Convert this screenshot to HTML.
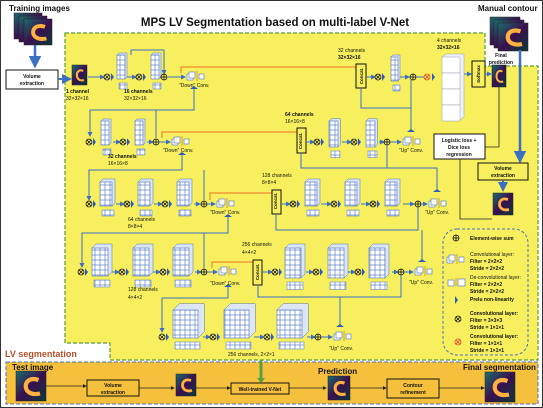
<!DOCTYPE html>
<html><head><meta charset="utf-8"><style>
html,body{margin:0;padding:0;background:#fff}
svg{display:block}
text{font-family:"Liberation Sans",sans-serif}
</style></head><body>
<svg id="s" width="543" height="408" viewBox="0 0 543 408" xmlns="http://www.w3.org/2000/svg">
<defs>
<pattern id="g" width="5" height="5" patternUnits="userSpaceOnUse"><rect width="5" height="5" fill="#fff" stroke="#4a72c4" stroke-width="0.6"/></pattern>
<linearGradient id="img" x1="0" y1="0" x2="1" y2="1"><stop offset="0" stop-color="#1a6d6a"/><stop offset="0.5" stop-color="#3a1050"/><stop offset="1" stop-color="#0a3a3a"/></linearGradient>
<marker id="ab" markerWidth="5" markerHeight="5" refX="4" refY="2.5" orient="auto"><path d="M0,0L5,2.5L0,5z" fill="#3a6fc4"/></marker>
<marker id="ak" markerWidth="5" markerHeight="5" refX="4" refY="2.5" orient="auto"><path d="M0,0L5,2.5L0,5z" fill="#222"/></marker>
</defs>
<rect x="0.5" y="0.5" width="542" height="407" fill="#fff" stroke="#333"/>
<!-- yellow region -->
<path d="M65,33 H485 V66 H538 V360 H110 V343 H65 Z" fill="#f7ef5e" stroke="#5a9a3a" stroke-width="1.2" stroke-dasharray="4,2"/>
<!-- bottom band -->
<rect x="6" y="362" width="532" height="42" fill="#f5c03c" stroke="#4a72c4" stroke-width="1" stroke-dasharray="4,2"/>
<text x="275" y="26" font-size="11.5" font-weight="bold" text-anchor="middle" fill="#111">MPS LV Segmentation based on multi-label V-Net</text>
<text x="9" y="11" font-size="8" font-weight="bold" fill="#111">Training images</text>
<text x="478" y="11" font-size="8" font-weight="bold" fill="#111">Manual contour</text>
<text x="5" y="357" font-size="9" font-weight="bold" fill="#b8502a">LV segmentation</text>
<g id="dyn"></g>
<g font-size="5" fill="#111" font-weight="bold">
<text x="32" y="78" text-anchor="middle">Volume</text><text x="32" y="85" text-anchor="middle">extraction</text>
<text x="66" y="93">1 channel</text><text x="66" y="100" font-weight="normal">32×32×16</text>
<text x="124" y="93">16 channels</text><text x="124" y="100" font-weight="normal">32×32×16</text>
<text x="179" y="87" font-weight="normal">"Down" Conv.</text>
<text x="338" y="52" font-weight="normal">32 channels</text><text x="338" y="59">32×32×16</text>
<text x="437" y="42" font-weight="normal">4 channels</text><text x="437" y="49">32×32×16</text>
<text x="501" y="57" text-anchor="middle">Final</text><text x="501" y="64" text-anchor="middle">prediction</text>
<text x="459" y="142" text-anchor="middle">Logistic loss +</text><text x="459" y="149" text-anchor="middle">Dice loss</text><text x="459" y="156" text-anchor="middle">regression</text>
<text x="503" y="170" text-anchor="middle">Volume</text><text x="503" y="177" text-anchor="middle">extraction</text>
<text x="108" y="158">32 channels</text><text x="108" y="165" font-weight="normal">16×16×8</text>
<text x="163" y="152" font-weight="normal">"Down" Conv.</text>
<text x="285" y="116">64 channels</text><text x="285" y="123" font-weight="normal">16×16×8</text>
<text x="399" y="152" font-weight="normal">"Up" Conv.</text>
<text x="128" y="221" font-weight="normal">64 channels</text><text x="128" y="228" font-weight="normal">8×8×4</text>
<text x="210" y="214" font-weight="normal">"Down" Conv.</text>
<text x="262" y="177" font-weight="normal">128 channels</text><text x="262" y="184" font-weight="normal">8×8×4</text>
<text x="425" y="214" font-weight="normal">"Up" Conv.</text>
<text x="128" y="291" font-weight="normal">128 channels</text><text x="128" y="299" font-weight="normal">4×4×2</text>
<text x="210" y="285" font-weight="normal">"Down" Conv.</text>
<text x="242" y="246" font-weight="normal">256 channels</text><text x="242" y="254" font-weight="normal">4×4×2</text>
<text x="409" y="284" font-weight="normal">"Up" Conv.</text>
<text x="228" y="356" font-weight="normal">256 channels, 2×2×1</text>
<text x="329" y="350" font-weight="normal">"Up" Conv.</text>
<text x="470" y="240">Element-wise sum</text>
<text x="470" y="256" font-weight="normal">Convolutional layer:</text><text x="470" y="263">Filter = 2×2×2</text><text x="470" y="270">Stride = 2×2×2</text>
<text x="470" y="279" font-weight="normal">De-convolutional layer:</text><text x="470" y="286">Filter = 2×2×2</text><text x="470" y="293">Stride = 2×2×2</text>
<text x="470" y="301">Prelu non-linearity</text>
<text x="470" y="315">Convolutional layer:</text><text x="470" y="322">Filter = 3×3×3</text><text x="470" y="329">Stride = 1×1×1</text>
<text x="470" y="338">Convolutional layer:</text><text x="470" y="345">Filter = 1×1×1</text><text x="470" y="352">Stride = 1×1×1</text>
<text x="12" y="370" font-size="8">Test image</text>
<text x="318" y="374" font-size="8">Prediction</text>
<text x="463" y="370" font-size="8">Final segmentation</text>
<text x="113" y="387" text-anchor="middle">Volume</text><text x="113" y="394" text-anchor="middle">extraction</text>
<text x="260" y="391" text-anchor="middle">Well-trained V-Net</text>
<text x="413" y="387" text-anchor="middle">Contour</text><text x="413" y="394" text-anchor="middle">refinement</text>
</g>
<g font-size="4.5" font-weight="bold" fill="#111">
<text transform="translate(363,76) rotate(-90)" text-anchor="middle">Concat.</text>
<text transform="translate(302,141) rotate(-90)" text-anchor="middle">Concat.</text>
<text transform="translate(277,201) rotate(-90)" text-anchor="middle">Concat.</text>
<text transform="translate(259,272) rotate(-90)" text-anchor="middle">Concat.</text>
<text transform="translate(480,74) rotate(-90)" text-anchor="middle">Softmax</text>
</g>
</svg>
<script>
var NS="http://www.w3.org/2000/svg",G=document.getElementById("dyn");
function el(t,a){var e=document.createElementNS(NS,t);for(var k in a)e.setAttribute(k,a[k]);G.appendChild(e);return e;}
function line(pts,c,w,m){el("polyline",{points:pts,fill:"none",stroke:c||"#3a6fc4","stroke-width":w||1,"marker-end":m?"url(#"+m+")":""});}
function box(x,y,w,h,f){el("rect",{x:x,y:y,width:w,height:h,fill:f||"#f7ef5e",stroke:"#111","stroke-width":1});}
function otimes(x,y,c){el("circle",{cx:x,cy:y,r:3,fill:"none",stroke:c||"#111","stroke-width":0.8});line((x-2)+","+(y-2)+" "+(x+2)+","+(y+2),c||"#111",0.8);line((x-2)+","+(y+2)+" "+(x+2)+","+(y-2),c||"#111",0.8);}
function oplus(x,y){el("circle",{cx:x,cy:y,r:3,fill:"none",stroke:"#111","stroke-width":0.8});line((x-3)+","+y+" "+(x+3)+","+y,"#111",0.8);line(x+","+(y-3)+" "+x+","+(y+3),"#111",0.8);}
function prelu(x,y){el("path",{d:"M"+x+","+(y-4)+" L"+(x+3)+","+y+" L"+x+","+(y+4)+"z",fill:"#2a5cc4"});}
function col(x,y,w,h){var d=Math.max(2,w*0.25);
 el("path",{d:"M"+x+","+y+" l"+d+","+(-d)+" h"+w+" v"+h+" l"+(-d)+","+d+"z",fill:"#dde6f5",stroke:"#4a72c4","stroke-width":0.5});
 el("rect",{x:x,y:y,width:w,height:h,fill:"url(#g)",stroke:"#4a72c4","stroke-width":0.6});
 el("rect",{x:x+2,y:y+h+4,width:w,height:Math.min(8,h*0.25),fill:"url(#g)",stroke:"#4a72c4","stroke-width":0.5});}
function cube(x,y,s){el("rect",{x:x,y:y,width:s,height:s,fill:"#fff",stroke:"#4a72c4","stroke-width":0.6});}
function conv(x,y){cube(x,y-3,6);cube(x+2,y-5,6);line((x+10)+","+(y-6)+" "+(x+10)+","+(y+4),"#d9a020",1);cube(x+12,y-3,5);}
function tee(x,y){el("path",{d:"M"+(x-4)+","+y+" h8 l-4,-3z",fill:"#2a5cc4"});}
function img(x,y,w,h){el("rect",{x:x,y:y,width:w,height:h,fill:"url(#img)",stroke:"#222","stroke-width":0.5});
 el("path",{d:"M"+(x+w*0.75)+","+(y+h*0.3)+" C"+(x+w*0.2)+","+(y+h*0.1)+" "+(x+w*0.15)+","+(y+h*0.9)+" "+(x+w*0.8)+","+(y+h*0.75),fill:"none",stroke:"#ffb040","stroke-width":Math.max(2,w*0.14)});}
// input/output images
img(14,13,28,26);img(19,16,28,26);img(24,19,28,26);
img(490,17,30,28);img(494,20,30,28);img(498,23,30,28);
line("35,45 35,66","#3a6fc4",2.5,"ab");
box(6,70,52,19,"#fff");
line("58,79 70,79","#3a6fc4",2,"ab");
img(72,65,15,20);
line("520,50 520,161","#3a6fc4",2.5,"ab");
box(478,163,50,17,"#f7ef5e");
line("503,180 503,190","#3a6fc4",2,"ab");
img(493,193,20,22);
// row1
line("88,77 104,77","#3a6fc4",1,"ab");otimes(107,77);prelu(111,77);col(117,55,8,24);
line("127,77 136,77","#3a6fc4",1,"ab");otimes(139,77);prelu(143,77);col(151,55,8,24);
line("131,55 131,50 164,50 164,74","#3a6fc4",1,"ab");
line("161,77 160,77");oplus(164,77);line("168,77 185,77","#3a6fc4",1,"ab");conv(187,77);
line("181,73 181,67 356,67","#f08a30",1.2);
box(356,64,10,24);
line("366,77 375,77","#3a6fc4",1,"ab");otimes(378,77);prelu(382,77);col(391,57,7,24);
line("400,77 409,77","#3a6fc4",1,"ab");oplus(413,77);line("416,77 424,77","#3a6fc4",1);otimes(427,77,"#e04020");prelu(432,77);
el("path",{d:"M442,57 l4,-3 h18 v63 l-4,3z",fill:"#eef2fa",stroke:"#99a","stroke-width":0.5});
for(var i=0;i<4;i++)el("rect",{x:442,y:57+i*16,width:18,height:16,fill:"#fff",stroke:"#99a","stroke-width":0.5});
line("464,74 471,74","#3a6fc4",1,"ab");box(472,61,13,26);line("485,74 491,74","#3a6fc4",1,"ab");img(492,65,14,22);
line("499,87 499,147 485,147","#222",0.8);box(434,134,51,25,"#fff");
line("460,159 460,219 492,219","#222",0.8);
line("361,88 361,108 411,108 411,80","#3a6fc4",1);
line("411,108 411,130","#3a6fc4",1);tee(411,132);
// row2
tee(194,89);line("194,89 194,110 90,110 90,136","#3a6fc4",1,"ab");line("156,110 156,138","#3a6fc4",1);
otimes(89,142);prelu(93,142);col(101,121,8,24);line("113,142 120,142","#3a6fc4",1,"ab");otimes(123,142);prelu(127,142);col(135,121,8,24);
line("147,142 153,142","#3a6fc4",1,"ab");oplus(156,142);line("159,142 170,142","#3a6fc4",1,"ab");conv(172,142);
line("162,138 162,132 297,132","#f08a30",1.2);box(297,128,9,25);
line("306,142 314,142","#3a6fc4",1,"ab");otimes(317,142);prelu(321,142);col(329,121,9,26);
line("342,142 351,142","#3a6fc4",1,"ab");otimes(354,142);prelu(358,142);col(366,121,9,26);
line("379,142 384,142","#3a6fc4",1,"ab");oplus(387,142);line("390,142 401,142","#3a6fc4",1,"ab");conv(403,142);
line("301,153 301,168 437,168 437,190","#3a6fc4",1);line("387,168 387,145","#3a6fc4",1);tee(437,192);
// row3
tee(182,155);line("182,155 182,170 89,170 89,200","#3a6fc4",1,"ab");line("204,170 204,200","#3a6fc4",1);
otimes(89,204);prelu(93,204);col(100,182,12,24);line("116,204 124,204","#3a6fc4",1,"ab");otimes(127,204);prelu(131,204);col(138,182,12,24);
line("154,204 162,204","#3a6fc4",1,"ab");otimes(165,204);prelu(169,204);col(177,182,12,24);
line("194,204 200,204","#3a6fc4",1,"ab");oplus(204,204);line("207,204 215,204","#3a6fc4",1,"ab");conv(217,204);
line("210,200 210,193 272,193","#f08a30",1.2);box(272,190,9,24);
line("281,204 290,204","#3a6fc4",1,"ab");otimes(293,204);prelu(297,204);col(305,182,12,24);
line("321,204 331,204","#3a6fc4",1,"ab");otimes(334,204);prelu(338,204);col(345,182,12,24);
line("361,204 370,204","#3a6fc4",1,"ab");otimes(373,204);prelu(377,204);col(385,182,12,24);
line("403,204 414,204","#3a6fc4",1,"ab");oplus(418,204);line("421,204 427,204","#3a6fc4",1,"ab");conv(429,204);
line("276,214 276,230 418,230 418,207","#3a6fc4",1);line("422,230 422,260","#3a6fc4",1);tee(422,262);
// row4
tee(228,217);line("228,217 228,233 82,233 82,267","#3a6fc4",1,"ab");line("204,233 204,268","#3a6fc4",1);
otimes(81,272);prelu(85,272);col(92,248,16,28);line("112,272 119,272","#3a6fc4",1,"ab");otimes(122,272);prelu(126,272);col(133,248,16,28);
line("153,272 160,272","#3a6fc4",1,"ab");otimes(163,272);prelu(167,272);col(173,248,16,28);
line("195,272 201,272","#3a6fc4",1,"ab");oplus(204,272);line("207,272 217,272","#3a6fc4",1,"ab");conv(219,272);
line("212,268 212,262 253,262","#f08a30",1.2);box(253,260,9,25);
line("262,272 272,272","#3a6fc4",1,"ab");otimes(275,272);prelu(279,272);col(285,248,16,30);
line("306,272 313,272","#3a6fc4",1,"ab");otimes(316,272);prelu(320,272);col(328,248,16,30);
line("348,272 355,272","#3a6fc4",1,"ab");otimes(358,272);prelu(362,272);col(369,248,16,30);
line("392,272 398,272","#3a6fc4",1,"ab");oplus(401,272);line("404,272 413,272","#3a6fc4",1,"ab");conv(415,272);
line("258,285 258,297 401,297 401,275","#3a6fc4",1);line("340,297 340,325","#3a6fc4",1);tee(340,327);
// row5
tee(228,287);line("228,287 228,298 162,298 162,332","#3a6fc4",1,"ab");
otimes(162,337);prelu(166,337);col(173,310,25,28);line("203,337 210,337","#3a6fc4",1,"ab");otimes(213,337);prelu(217,337);col(224,310,25,28);
line("254,337 264,337","#3a6fc4",1,"ab");otimes(267,337);prelu(271,337);col(277,310,25,28);
line("307,337 315,337","#3a6fc4",1,"ab");oplus(318,337);line("321,337 332,337","#3a6fc4",1,"ab");conv(334,337);
// legend
el("rect",{x:443,y:229,width:85,height:126,rx:14,fill:"none",stroke:"#4a72c4","stroke-width":1,"stroke-dasharray":"3,2"});
oplus(456,238);conv(447,260);
cube(448,280,6);line("456,278 456,286","#d9a020",1);cube(458,279,7);
prelu(455,300);otimes(458,319);otimes(458,342,"#e04020");
// bottom band
img(16,371,30,30);line("46,386 86,386","#222",0.8,"ak");box(87,380,52,16,"#f5c03c");
line("139,388 174,388","#222",0.8,"ak");img(176,374,20,22);line("196,388 230,388","#222",0.8,"ak");
box(231,383,58,11,"#f5c03c");line("261,360 261,382","#5aa040",3,"");el("path",{d:"M257,378 L265,378 L261,383z",fill:"#5aa040"});
line("289,388 326,388","#222",0.8,"ak");img(328,376,22,24);line("350,388 386,388","#222",0.8,"ak");
box(387,379,52,19,"#f5c03c");line("439,388 484,388","#222",0.8,"ak");img(485,372,30,30);
</script>
</body></html>
